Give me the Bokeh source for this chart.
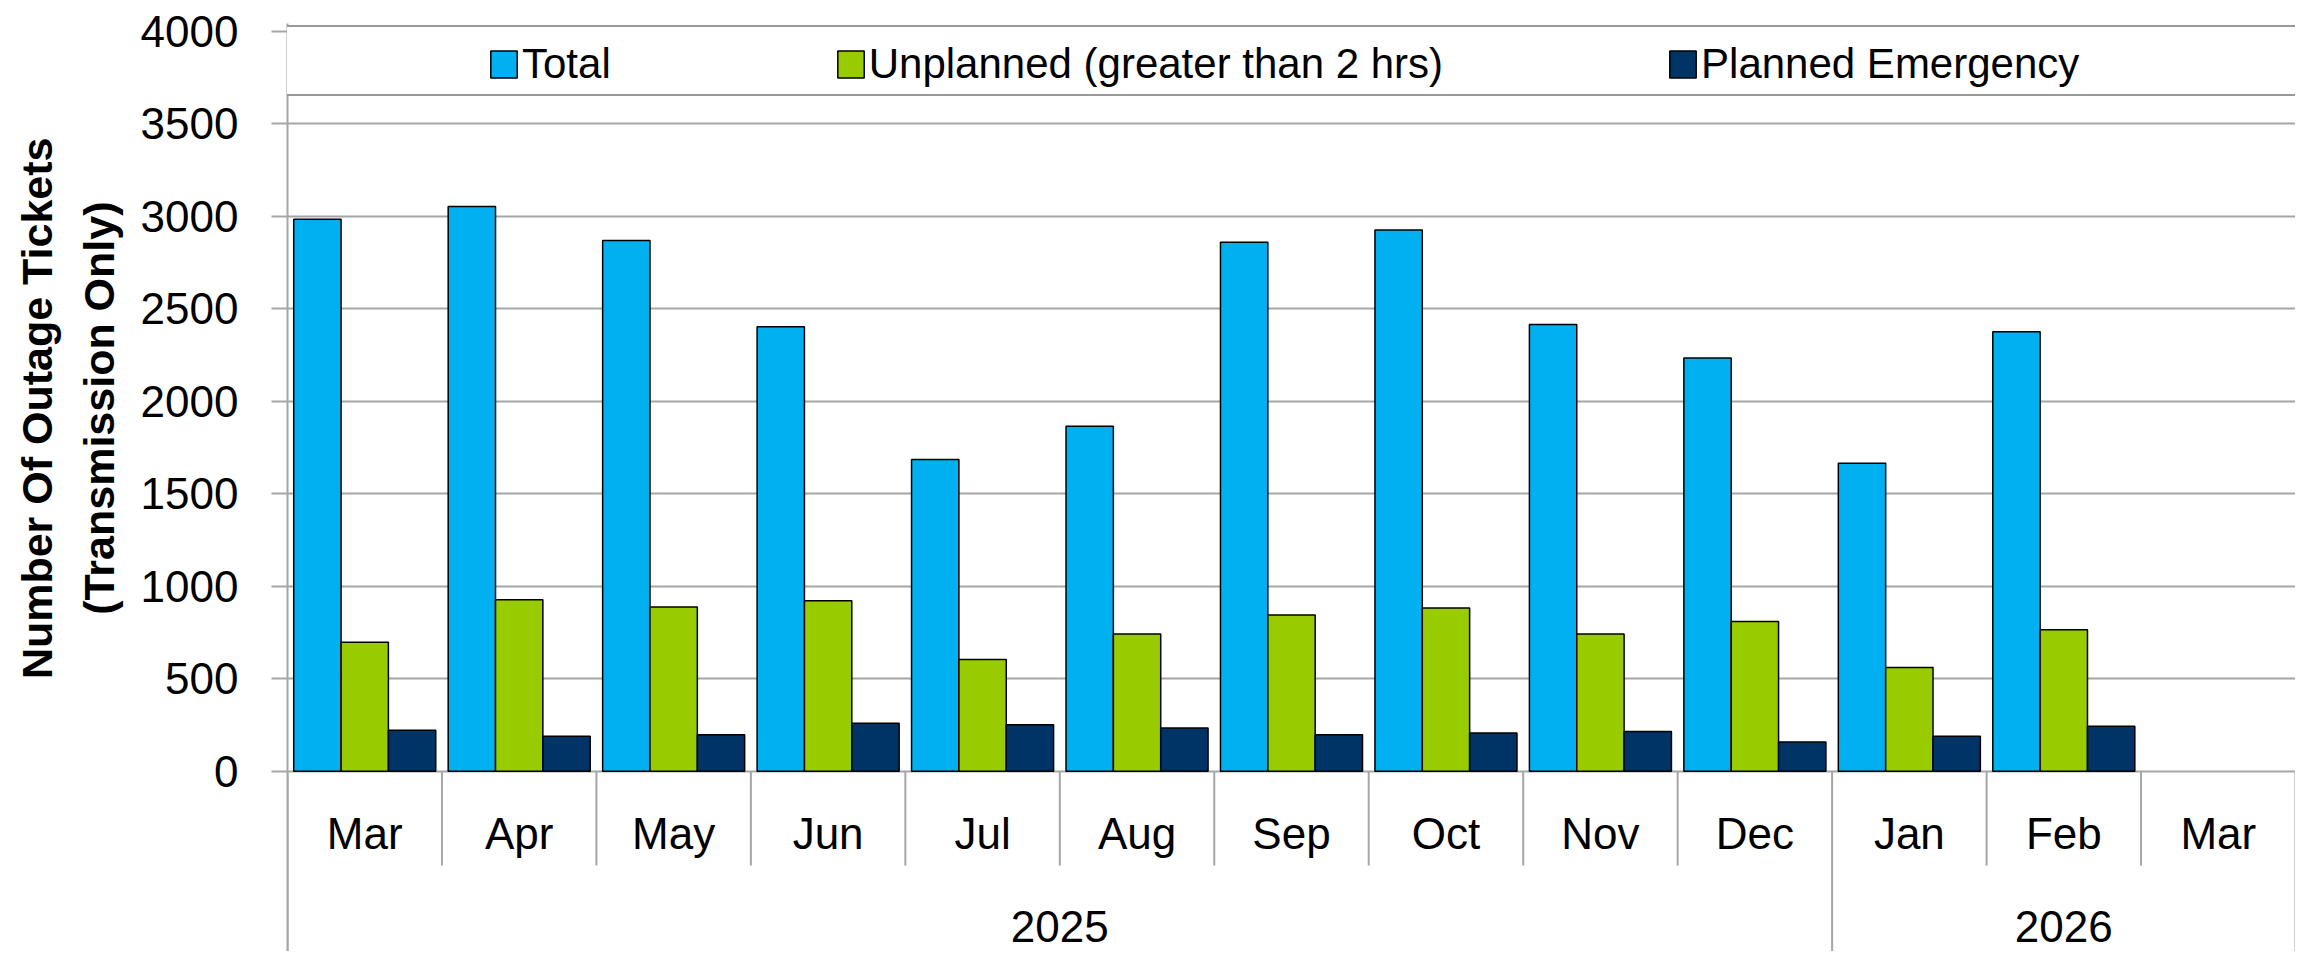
from bokeh.plotting import figure
from bokeh.models import (Range1d, FixedTicker, ColumnDataSource, Legend, LegendItem, Title)
from bokeh.transform import dodge
from bokeh.core.properties import value
from bokeh.embed import file_html
from bokeh.resources import INLINE

NAN = float("nan")

# ---------------- data ----------------
months = ["Mar", "Apr", "May", "Jun", "Jul", "Aug", "Sep", "Oct", "Nov", "Dec", "Jan", "Feb", "Mar"]
years = ["2025", "2025", "2025", "2025", "2025", "2025", "2025", "2025", "2025", "2025",
         "2026", "2026", "2026"]
total = [2983, 3052, 2869, 2402, 1685, 1865, 2859, 2925, 2415, 2234, 1664, 2376, NAN]
unplanned = [697, 927, 888, 921, 604, 741, 844, 882, 741, 809, 560, 764, NAN]
planned_emergency = [222, 189, 197, 259, 251, 234, 197, 207, 214, 158, 189, 243, NAN]
series_names = ["Total", "Unplanned (greater than 2 hrs)", "Planned Emergency"]
series_colors = ["#00B0F0", "#99CC00", "#003366"]
y_ticks = [0, 500, 1000, 1500, 2000, 2500, 3000, 3500, 4000]
y_title_lines = ["Number Of Outage Tickets", "(Transmission Only)"]

# ---------------- style ----------------
FONT = "Liberation Sans"
GRID = "#a6a6a6"
BAR_W = 0.3065
n = len(months)

src = ColumnDataSource(dict(
    x=[i + 0.5 for i in range(n)],
    month=months,
    total=total,
    unplanned=unplanned,
    pe=planned_emergency,
))
legend_src = ColumnDataSource(dict(x=[NAN], y=[NAN]))

p = figure(width=2295, height=951, x_range=Range1d(0, n), y_range=Range1d(-974.6, 4041.6),
           output_backend="svg", toolbar_location=None, x_axis_location=None,
           min_border_left=287, min_border_right=0, min_border_top=23, min_border_bottom=0)
p.outline_line_color = None
p.xgrid.visible = False

ax = p.yaxis[0]
ax.ticker = FixedTicker(ticks=y_ticks)
ax.axis_line_color = GRID
ax.axis_line_width = 2
ax.major_tick_line_color = GRID
ax.major_tick_line_width = 2
ax.major_tick_out = 16
ax.major_tick_in = 0
ax.minor_tick_line_color = None
ax.major_label_text_font = FONT
ax.major_label_text_font_size = "44px"
ax.major_label_text_color = "black"
ax.major_label_standoff = 33

p.ygrid.ticker = FixedTicker(ticks=y_ticks)
p.ygrid.grid_line_color = GRID
p.ygrid.grid_line_width = 2

# bars
cols = ["total", "unplanned", "pe"]
offsets = [-BAR_W, 0.0, BAR_W]
bar_renderers = []
for col, off, color in zip(cols, offsets, series_colors):
    r = p.vbar(x=dodge("x", off), top=col, bottom=0, width=BAR_W, source=src,
               fill_color=color, line_color="black", line_width=1.5)
    bar_renderers.append(r)

# category separators
bounds = list(range(1, n))
year_bounds = [0] + [i for i in range(1, n) if years[i] != years[i - 1]] + [n]
month_bounds = [b for b in bounds if b not in year_bounds]
p.segment(x0=month_bounds, y0=[0] * len(month_bounds), x1=month_bounds,
          y1=[-510] * len(month_bounds), line_color=GRID, line_width=2)
p.segment(x0=year_bounds, y0=[0] * len(year_bounds), x1=year_bounds,
          y1=[-975] * len(year_bounds), line_color=GRID, line_width=2)

# month labels
p.text(x="x", y=-335, text="month", source=src, text_align="center",
       text_baseline="alphabetic", text_font=value(FONT), text_font_size="44px",
       text_color="black")

# year labels
uy = []
for y in years:
    if y not in uy:
        uy.append(y)
ycent = []
for y in uy:
    idx = [i for i, v in enumerate(years) if v == y]
    ycent.append((idx[0] + idx[-1] + 1) / 2)
p.text(x=ycent, y=[-839] * len(uy), text=uy, text_align="center",
       text_baseline="alphabetic", text_font=value(FONT), text_font_size="44px",
       text_color="black")

# legend box (frame)
dummy = p.scatter(x="x", y="y", source=legend_src, marker="square", fill_alpha=0, line_alpha=0)
box = Legend(items=[LegendItem(label=" ", renderers=[dummy])], location=(-19, 855),
             orientation="horizontal", padding=0, margin=0, glyph_width=10, glyph_height=67,
             label_standoff=0, label_width=2016, label_height=67,
             border_line_color="#333333", border_line_width=2, background_fill_color="white",
             background_fill_alpha=1.0, label_text_font_size="10px")
p.add_layout(box, "center")

items = [LegendItem(label=nm, renderers=[r]) for nm, r in zip(series_names, bar_renderers)]
leg = Legend(items=items, location=(200, 862), orientation="horizontal", padding=0, margin=0,
             spacing=223, glyph_width=33, glyph_height=34, label_standoff=2,
             label_height=51, label_width=20,
             label_text_font=FONT, label_text_font_size="42px", label_text_color="black",
             border_line_color=None, background_fill_alpha=0)
p.add_layout(leg, "center")

# y-axis title (two lines)
t_inner = Title(text=y_title_lines[1], align="right", offset=178, standoff=30,
                text_font=FONT, text_font_size="43px", text_font_style="bold", text_color="black")
p.add_layout(t_inner, "left")
t_outer = Title(text=y_title_lines[0], align="right", offset=114, standoff=-6,
                text_font=FONT, text_font_size="43px", text_font_style="bold", text_color="black")
p.add_layout(t_outer, "left")

open("out.html", "w").write(file_html(p, INLINE))
